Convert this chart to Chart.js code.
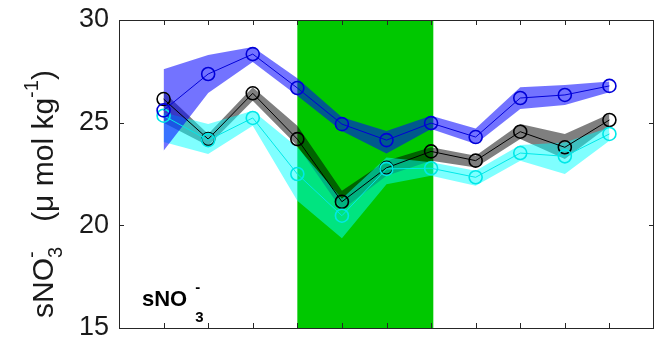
<!DOCTYPE html>
<html>
<head>
<meta charset="utf-8">
<script src="https://cdn.jsdelivr.net/npm/chart.js@4/dist/chart.umd.min.js"></script>
<style>
	html, body { margin: 0; padding: 0; background: #fff; }
	#wrap { width: 654px; height: 339px; }
</style>
</head>
<body>
<div id="wrap"><canvas id="chart" width="654" height="339"></canvas></div>
<script>
const stations = [1, 2, 3, 4, 5, 6, 7, 8, 9, 10, 11];
const yTicks = [15, 20, 25, 30];
const shadedSpan = [4, 7.05];

const blackMean = [26.15, 24.2, 26.43, 24.2, 21.15, 22.8, 23.6, 23.15, 24.56, 23.8, 25.13];
const blackUpper = [26.5, 24.45, 26.72, 24.85, 21.69, 23.15, 23.8, 23.39, 24.93, 24.45, 25.42];
const blackLower = [25.0, 23.88, 26.07, 23.88, 20.75, 22.42, 23.15, 22.82, 24.2, 23.23, 24.85];

const cyanMean = [25.34, 24.15, 25.23, 22.5, 20.47, 22.75, 22.78, 22.34, 23.52, 23.36, 24.45];
const cyanUpper = [25.5, 24.93, 25.58, 23.8, 21.3, 23.3, 23.07, 22.66, 23.91, 24.04, 24.77];
const cyanLower = [24.06, 23.47, 24.85, 21.2, 19.37, 22.0, 22.42, 21.93, 23.15, 22.5, 24.12];

const blueMean = [25.6, 27.37, 28.34, 26.69, 24.93, 24.15, 24.98, 24.3, 26.2, 26.35, 26.79];
const blueUpper = [27.6, 28.3, 28.68, 27.16, 25.26, 24.6, 25.34, 24.72, 26.72, 26.83, 27.0];
const blueLower = [23.63, 26.45, 27.95, 26.31, 24.6, 23.5, 24.69, 23.96, 25.66, 25.86, 26.48];

const FONT = '"Liberation Sans", Arial, Helvetica, sans-serif';

const pairs = (ys) => ys.map((y, i) => ({ x: stations[i], y: y }));

const band = (lower, upper, color, order) => [
	{ data: pairs(lower), borderWidth: 0, pointRadius: 0, fill: false, order: order },
	{ data: pairs(upper), borderWidth: 0, pointRadius: 0, backgroundColor: color, fill: "-1", order: order },
];

const line = (mean, color, order) => ({
	data: pairs(mean),
	borderColor: color,
	borderWidth: 1,
	pointRadius: 6.5,
	pointBorderWidth: 1.6,
	pointBorderColor: color,
	pointBackgroundColor: "rgba(0,0,0,0)",
	fill: false,
	order: order,
});

// draws text with MATLAB style stacked sub/superscripts
function drawFormula(ctx, x, y, pieces, o) {
	let cx = x;
	for (const [text, sub, sup] of pieces) {
		ctx.font = o.weight + " " + o.size + "px " + FONT;
		ctx.fillText(text, cx, y);
		cx += ctx.measureText(text).width;
		if (sub || sup) {
			cx += o.gap;
			ctx.font = o.weight + " " + o.small + "px " + FONT;
			let w = 0;
			if (sub) {
				ctx.fillText(sub, cx, y + o.drop);
				w = Math.max(w, ctx.measureText(sub).width);
			}
			if (sup) {
				ctx.fillText(sup, cx, y - o.raise);
				w = Math.max(w, ctx.measureText(sup).width);
			}
			cx += w;
		}
	}
}

const decor = {
	id: "decor",
	beforeDatasetsDraw(chart) {
		const { ctx, chartArea, scales } = chart;
		const x0 = scales.x.getPixelForValue(shadedSpan[0]);
		const x1 = scales.x.getPixelForValue(shadedSpan[1]);
		ctx.save();
		ctx.fillStyle = "#00c800";
		ctx.fillRect(x0, chartArea.top, x1 - x0, chartArea.bottom - chartArea.top);
		ctx.restore();
	},
	afterDraw(chart) {
		const { ctx, chartArea, scales } = chart;
		const { left, right, top, bottom } = chartArea;
		ctx.save();
		ctx.strokeStyle = "#262626";
		ctx.lineWidth = 1;
		ctx.strokeRect(Math.round(left) + 0.5, Math.round(top) + 0.5, Math.round(right - left) - 1, Math.round(bottom - top));
		ctx.beginPath();
		scales.y.ticks.forEach((t) => {
			const py = Math.round(scales.y.getPixelForValue(t.value)) + 0.5;
			ctx.moveTo(left, py);
			ctx.lineTo(left + 5, py);
			ctx.moveTo(right, py);
			ctx.lineTo(right - 5, py);
		});
		scales.x.ticks.forEach((t) => {
			if (t.value <= 0 || t.value >= 12) return;
			const px = Math.round(scales.x.getPixelForValue(t.value)) + 0.5;
			ctx.moveTo(px, top);
			ctx.lineTo(px, top + 5);
			ctx.moveTo(px, bottom);
			ctx.lineTo(px, bottom - 5);
		});
		ctx.stroke();

		ctx.fillStyle = "#000";
		ctx.textBaseline = "alphabetic";
		ctx.textAlign = "left";
		drawFormula(ctx, 142, 306, [["sNO", "3", "-"]], { weight: "bold", size: 22, small: 15, drop: 16, raise: 14, gap: 8 });

		const titleOpts = { weight: "normal", size: 30, small: 20, drop: 9, raise: 15, gap: 0 };
		const pieces = [["sNO", "3", "-"], ["   (\u03bc mol kg", null, "-1"], [")", null, null]];
		ctx.fillStyle = "#1a1a1a";
		ctx.translate(53, 318);
		ctx.rotate(-Math.PI / 2);
		drawFormula(ctx, 0, 0, pieces, titleOpts);
		ctx.restore();
	},
};

new Chart(document.getElementById("chart"), {
	type: "line",
	data: {
		datasets: [
			...band(blackLower, blackUpper, "rgba(0,0,0,0.5)", 6),
			...band(cyanLower, cyanUpper, "rgba(0,255,255,0.5)", 5),
			...band(blueLower, blueUpper, "rgba(0,0,255,0.55)", 4),
			line(blackMean, "#000000", 3),
			line(cyanMean, "#00e8e8", 2),
			line(blueMean, "#0000d8", 1),
		],
	},
	options: {
		responsive: false,
		animation: false,
		layout: { autoPadding: false, padding: { left: 0, right: 0, top: 20, bottom: 11 } },
		plugins: {
			legend: { display: false },
			tooltip: { enabled: false },
		},
		elements: { line: { tension: 0 } },
		scales: {
			x: {
				type: "linear",
				min: 0,
				max: 12,
				ticks: { display: false, stepSize: 1 },
				grid: { display: false, drawTicks: false },
				border: { display: false },
				afterFit: (s) => {
					s.height = 0;
					s.paddingLeft = 0;
					s.paddingRight = 0;
				},
			},
			y: {
				min: 15,
				max: 30,
				afterBuildTicks: (s) => { s.ticks = yTicks.map((v) => ({ value: v })); },
				ticks: { color: "#1a1a1a", padding: 10, font: { family: FONT, size: 27 } },
				grid: { display: false, drawTicks: false },
				border: { display: false },
				afterFit: (s) => {
					s.width = 119;
					s.paddingTop = 0;
					s.paddingBottom = 0;
				},
			},
		},
	},
	plugins: [decor],
});
</script>
</body>
</html>
